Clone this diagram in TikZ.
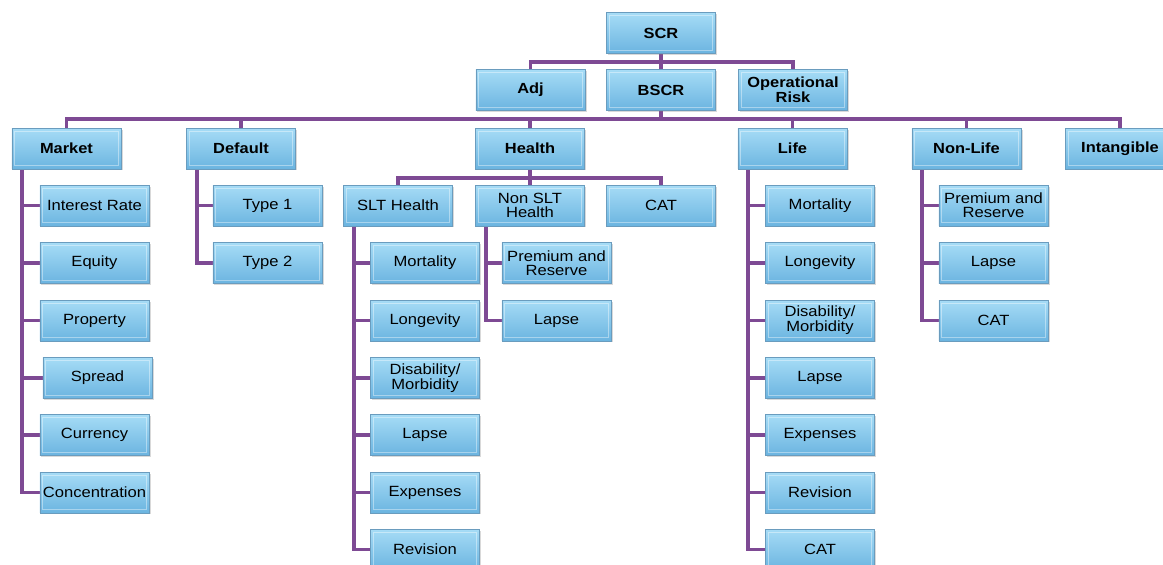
\documentclass[tikz,border=0pt]{standalone}
\usepackage{fontspec}
\setmainfont[FakeStretch=1.12]{Liberation Sans}
\usetikzlibrary{backgrounds,shadows}

\definecolor{linkpurple}{HTML}{7E4A94}
\definecolor{boxtop}{HTML}{A6DCF6}
\definecolor{boxbot}{HTML}{6BB4E0}
\definecolor{boxedge}{HTML}{6A9CBE}

\tikzset{
  box/.style={rectangle, minimum width=82pt, minimum height=30.5pt, inner sep=1pt,
    align=center, top color=boxtop, bottom color=boxbot, draw=boxedge, line width=0.4pt,
    drop shadow={shadow xshift=1.2pt, shadow yshift=-1.2pt, opacity=0.3},
    path picture={\draw[white, opacity=0.4, line width=0.7pt]
      ([shift={(2.2pt,-2.2pt)}]path picture bounding box.north west) rectangle
      ([shift={(-2.2pt,2.2pt)}]path picture bounding box.south east);},
    font=\fontsize{11.1}{10.2}\selectfont},
  head/.style={box, font=\fontsize{11}{10.2}\selectfont\bfseries},
  link/.style={draw=linkpurple, line width=2.8pt},
}

\begin{document}
\begin{tikzpicture}[x=0.75pt,y=-0.75pt]
\useasboundingbox (0,0) rectangle (1163,564);

% top
\node[head] (scr) at (661,33) {SCR};
\node[head] (adj) at (530.5,90) {Adj};
\node[head] (bscr) at (661,90) {BSCR};
\node[head] (oprisk) at (793,90) {Operational\\Risk};

% modules
\node[head] (market) at (66.5,148.5) {Market};
\node[head] (default) at (241,148.5) {Default};
\node[head] (health) at (530,148.5) {Health};
\node[head] (life) at (792.5,148.5) {Life};
\node[head] (nonlife) at (966.5,148.5) {Non-Life};
\node[head] (intang) at (1120,148.5) {Intangible};

% market
\node[box] (mk1) at (94.5,205.5) {Interest Rate};
\node[box] (mk2) at (94.5,263) {Equity};
\node[box] (mk3) at (94.5,320.5) {Property};
\node[box] (mk4) at (97.5,378) {Spread};
\node[box] (mk5) at (94.5,435) {Currency};
\node[box] (mk6) at (94.5,492.5) {Concentration};

% default
\node[box] (df1) at (267.5,205.5) {Type 1};
\node[box] (df2) at (267.5,263) {Type 2};

% health
\node[box] (slt) at (398,205.5) {SLT Health};
\node[box] (nonslt) at (530,205.5) {Non SLT\\Health};
\node[box] (hcat) at (661,205.5) {CAT};

\node[box] (sl1) at (425,263) {Mortality};
\node[box] (sl2) at (425,320.5) {Longevity};
\node[box] (sl3) at (425,378) {Disability/\\Morbidity};
\node[box] (sl4) at (425,435) {Lapse};
\node[box] (sl5) at (425,492.5) {Expenses};
\node[box] (sl6) at (425,549.5) {Revision};

\node[box] (ns1) at (556.5,263) {Premium and\\Reserve};
\node[box] (ns2) at (556.5,320.5) {Lapse};

% life
\node[box] (lf1) at (820,205.5) {Mortality};
\node[box] (lf2) at (820,263) {Longevity};
\node[box] (lf3) at (820,320.5) {Disability/\\Morbidity};
\node[box] (lf4) at (820,378) {Lapse};
\node[box] (lf5) at (820,435) {Expenses};
\node[box] (lf6) at (820,492.5) {Revision};
\node[box] (lf7) at (820,549.5) {CAT};

% non-life
\node[box] (nl1) at (993.5,205.5) {Premium and\\Reserve};
\node[box] (nl2) at (993.5,263) {Lapse};
\node[box] (nl3) at (993.5,320.5) {CAT};

\coordinate (bus1) at (661,62);
\coordinate (bus2) at (661,119);
\coordinate (bus3) at (530,178);

\begin{pgfonlayer}{background}
\draw[link] (scr.south) -- (bscr.north);
\draw[link] (adj.north) |- (bus1) -| (oprisk.north);
\draw[link] (bscr.south) -- (bus2);
\draw[link] (market.north) |- (bus2) -| (intang.north);
\foreach \n in {default,health,life,nonlife}
  \draw[link] (\n.north) -- (\n.north |- bus2);

\draw[link] (health.south) -- (bus3);
\draw[link] (slt.north) |- (bus3) -| (hcat.north);
\draw[link] (nonslt.north) -- (nonslt.north |- bus3);

\foreach \c in {mk1,mk2,mk3,mk4,mk5,mk6}
  \draw[link] ([xshift=7.8pt]market.south west) |- (\c.west);
\foreach \c in {df1,df2}
  \draw[link] ([xshift=8.2pt]default.south west) |- (\c.west);
\foreach \c in {sl1,sl2,sl3,sl4,sl5,sl6}
  \draw[link] ([xshift=8.2pt]slt.south west) |- (\c.west);
\foreach \c in {ns1,ns2}
  \draw[link] ([xshift=8.2pt]nonslt.south west) |- (\c.west);
\foreach \c in {lf1,lf2,lf3,lf4,lf5,lf6,lf7}
  \draw[link] ([xshift=7.8pt]life.south west) |- (\c.west);
\foreach \c in {nl1,nl2,nl3}
  \draw[link] ([xshift=7.8pt]nonlife.south west) |- (\c.west);
\end{pgfonlayer}
\end{tikzpicture}
\end{document}
